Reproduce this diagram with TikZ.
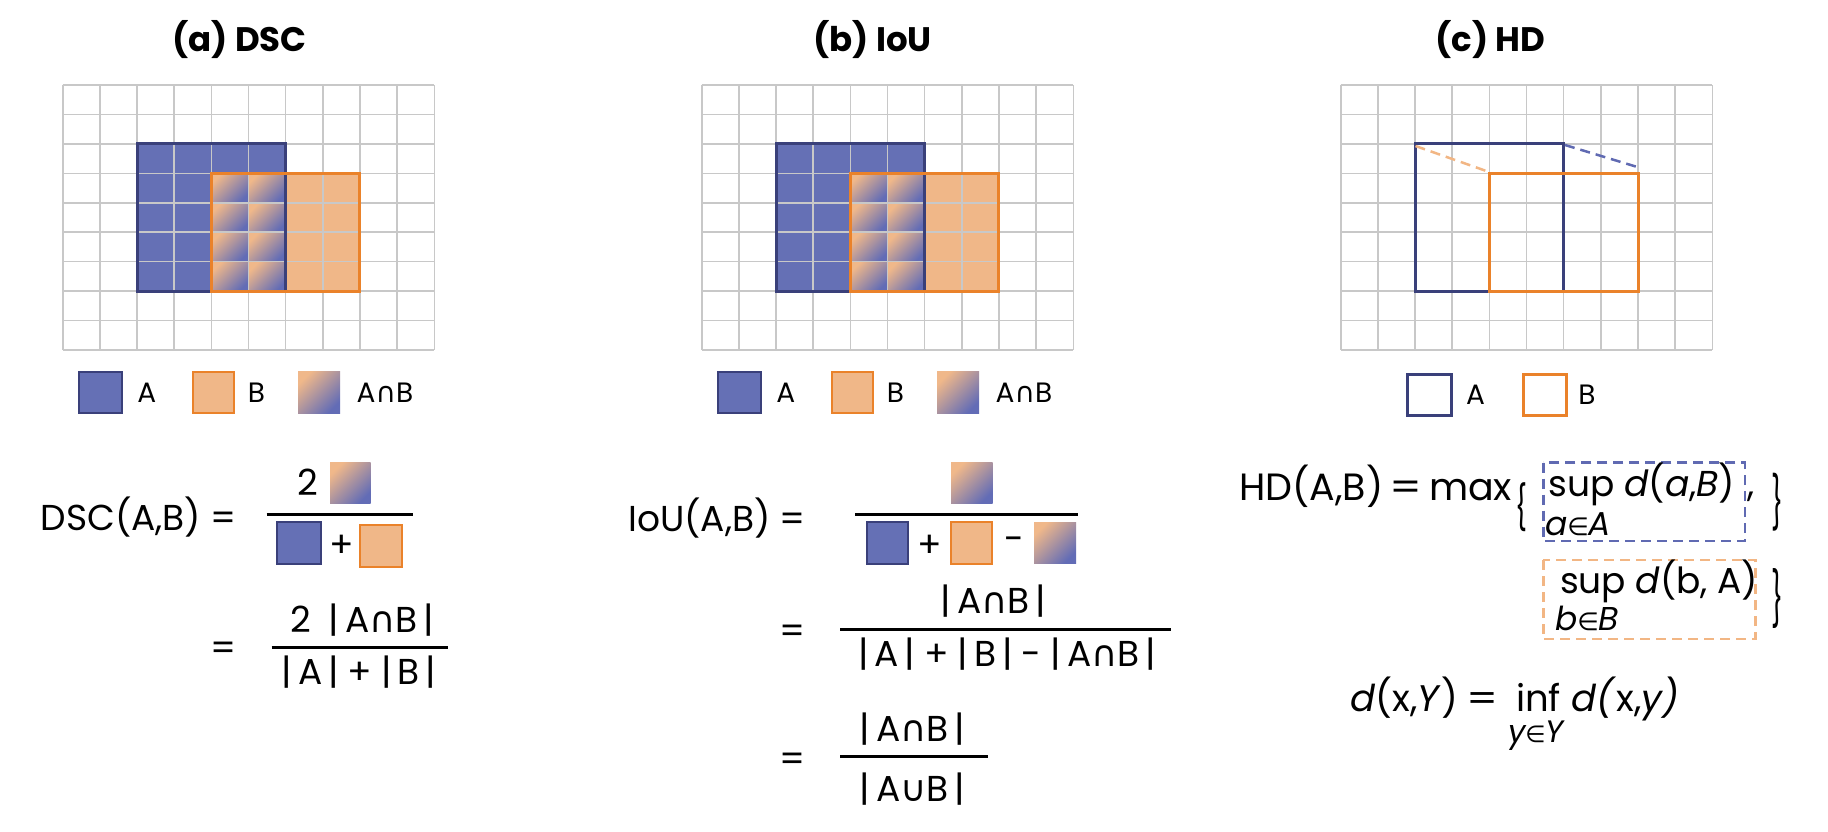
\documentclass[tikz,border=0pt]{standalone}
\usepackage{fontspec}
\setmainfont{Poppins}
\newfontfamily\symf{DejaVu Sans}
\usetikzlibrary{calc}
\definecolor{ablue}{RGB}{101,112,181}
\definecolor{ablueline}{RGB}{58,64,122}
\definecolor{borange}{RGB}{240,183,136}
\definecolor{borangeline}{RGB}{234,130,42}
\definecolor{gridc}{RGB}{200,200,200}
\definecolor{gradO}{RGB}{240,184,138}
\definecolor{gradB}{RGB}{98,108,182}
\definecolor{dashblue}{RGB}{96,106,178}
\definecolor{dashorange}{RGB}{242,182,132}
\newcommand{\mycap}{{\symf ∩}}
\newcommand{\mycup}{{\symf ∪}}
\newcommand{\myin}{{\symf\scalebox{0.75}{∈}}}
\newcommand{\opsp}[1]{\hspace{9pt}#1\hspace{9pt}}
\newcommand{\wideeq}{\scalebox{1.2}[1]{=}}
\tikzset{
  txt/.style={inner sep=0pt, outer sep=0pt},
  ttl/.style={txt, font=\fontsize{34}{38}\selectfont\bfseries},
  leg/.style={txt, font=\fontsize{28}{32}\selectfont},
  frm/.style={txt, font=\fontsize{36}{40}\selectfont},
  hdf/.style={txt, font=\fontsize{38}{44}\selectfont},
  hdg/.style={txt, font=\fontsize{37}{42}\selectfont},
  hds/.style={txt, font=\fontsize{36}{40}\selectfont},
  hdsub/.style={txt, font=\fontsize{33}{38}\selectfont\itshape},
  gridline/.style={draw=gridc, line width=1.6pt},
  afill/.style={fill=ablue},
  bfill/.style={fill=borange},
  aedge/.style={draw=ablueline, line width=3pt},
  bedge/.style={draw=borangeline, line width=3pt},
  grad/.style={top color=gradO, bottom color=gradB, shading angle=45},
  fracbar/.style={line width=3pt, black},
  legA/.style={fill=ablue, draw=ablueline, line width=2pt},
  legB/.style={fill=borange, draw=borangeline, line width=2pt},
  hdash/.style={line width=2.5pt, dash pattern=on 10pt off 6pt},
}
\begin{document}
\begin{tikzpicture}[x=1pt,y=-1pt]
\fill[white] (0,0) rectangle (1828,831);
\useasboundingbox (0,0) rectangle (1828,831);

% titles
\node[ttl, anchor=base] (ta) at (239.5,51.7) {(a) DSC};
\node[ttl, anchor=base] (tb) at (872.6,51.7) {(b) IoU};
\node[ttl, anchor=base] (tc) at (1490.5,51.7) {(c) HD};

% panels a and b
\foreach \ox in {0,639} {
\begin{scope}[xshift=\ox pt]
  \fill[afill] (137.02,143.88) rectangle (285.66,291.08);
  \fill[bfill] (211.34,173.32) rectangle (359.98,291.08);
  \foreach \i in {4,5} \foreach \j in {3,...,6}
    \shade[grad] ({62.7+37.16*\i},{85+29.44*\j}) rectangle ++(37.16,29.44);
  \foreach \i in {0,...,10}
    \draw[gridline] ({62.7+37.16*\i},85) -- ({62.7+37.16*\i},349.96);
  \foreach \j in {0,...,9}
    \draw[gridline] (62.7,{85+29.44*\j}) -- (434.3,{85+29.44*\j});
  \draw[aedge] (137.02,143.88) rectangle (285.66,291.08);
  \draw[bedge] (211.34,173.32) rectangle (359.98,291.08);
  % legend
  \draw[legA] (79.3,371.7) rectangle (121.7,413.3);
  \node[leg] (legA\ox) at (146.7,392.5) {A};
  \draw[legB] (192.7,371.7) rectangle (234.3,413.3);
  \node[leg] (legB\ox) at (256.5,392.5) {B};
  \shade[grad] (298,371.7) rectangle (340,413.3);
  \node[leg] (legAB\ox) at (385,392.5) {A\mycap B};
\end{scope}
}

% panel c
\begin{scope}[xshift=1278pt]
  \foreach \i in {0,...,10}
    \draw[gridline] ({62.7+37.16*\i},85) -- ({62.7+37.16*\i},349.96);
  \foreach \j in {0,...,9}
    \draw[gridline] (62.7,{85+29.44*\j}) -- (434.3,{85+29.44*\j});
  \draw[aedge] (137.02,143.88) rectangle (285.66,291.08);
  \draw[bedge] (211.34,173.32) rectangle (359.98,291.08);
  \draw[hdash, dashorange] (137.5,146) -- (210.3,171.7);
  \draw[hdash, dashblue] (287,145) -- (360.3,167.3);
\end{scope}
\draw[aedge, fill=white] (1407.7,374) rectangle (1451.7,415);
\node[leg] (legAc) at (1475.5,394.5) {A};
\draw[bedge, fill=white] (1523.3,374) rectangle (1566,415);
\node[leg] (legBc) at (1587,394.5) {B};

% ---------- DSC formula ----------
\node[frm, anchor=base west] (dscl) at (40.7,530.7) {DSC(A,B)};
\node[frm, anchor=base] (dsceq) at (224,530.7) {=};
\draw[fracbar] (266.7,514) -- (413.3,514);
\node[frm, anchor=base] (dsctwo) at (307.5,495) {2};
\shade[grad] (330,462.7) rectangle (370.7,503.3);
\draw[legA] (277,522) rectangle (320.7,564);
\node[frm] (dscplus) at (342,546) {+};
\draw[legB] (360,525) rectangle (402,567);
\node[frm, anchor=base] (dsceq2) at (224,660.9) {=};
\node[frm, anchor=base] (dscnum) at (362.3,632.7) {2\enspace|\,A\mycap B\,|};
\draw[fracbar] (271.7,647.3) -- (448,647.3);
\node[frm, anchor=base] (dscden) at (359,684) {|\,A\,|\opsp{+}|\,B\,|};

% ---------- IoU formula ----------
\node[frm, anchor=base west] (ioul) at (628.3,531.7) {IoU(A,B)};
\node[frm, anchor=base] (ioueq) at (793,531.7) {=};
\draw[fracbar] (855,514) -- (1078.3,514);
\shade[grad] (951,462.7) rectangle (992.7,503.3);
\draw[legA] (866.7,522.3) rectangle (908.3,564.3);
\node[frm] (iouplus) at (929.5,546) {+};
\draw[legB] (950.7,522.3) rectangle (992.3,564.3);
\node[frm] (iouminus) at (1014,544) {-};
\shade[grad] (1034,522.7) rectangle (1076,563.3);
\node[frm, anchor=base] (ioueq2) at (793,643.5) {=};
\node[frm, anchor=base] (iounum2) at (993.5,613.3) {|\,A\mycap B\,|};
\draw[fracbar] (840,629) -- (1171,629);
\node[frm, anchor=base] (iouden2) at (1007.2,666.7) {|\,A\,|\opsp{+}|\,B\,|\opsp{-}|\,A\mycap B\,|};
\node[frm, anchor=base] (ioueq3) at (793,771.9) {=};
\node[frm, anchor=base] (iounum3) at (912.5,741.7) {|\,A\mycap B\,|};
\draw[fracbar] (840,756) -- (987.7,756);
\node[frm, anchor=base] (iouden3) at (912.5,801) {|\,A\mycup B\,|};

% ---------- HD formula ----------
\node[hdf, anchor=base west] (hdl) at (1239.3,500) {HD(A,B)};
\node[hdf, anchor=base] (hdeq) at (1406,500) {\wideeq};
\node[hdf, anchor=base west] (hdmax) at (1429,500) {max};
\node[hdf] (hdbr) at (1521,507.5) {\resizebox*{12pt}{49pt}{\{}};
\draw[hdash, dashblue] (1543.3,462.7) rectangle (1745,541);
\node[hds, anchor=base west] (sup1) at (1548.5,496.7) {sup \textit{d}(\textit{a},\textit{B})};
\node[hds, anchor=base west] (comma) at (1747,496.7) {,};
\node[hdsub, anchor=base west] (sub1) at (1545,535) {a\myin A};
\node[hdf] (hdbr1) at (1777.7,502.5) {\resizebox*{12pt}{58pt}{\}}};
\draw[hdash, dashorange] (1543.3,560) rectangle (1755.5,639);
\node[hds, anchor=base west] (sup2) at (1560,593.3) {sup \textit{d}(b, A)};
\node[hdsub, anchor=base west] (sub2) at (1555,630) {b\myin B};
\node[hdf] (hdbr2) at (1777,598.3) {\resizebox*{12pt}{60pt}{\}}};
\node[hdg, anchor=base west] (dxy) at (1350.7,711.7) {\textit{d}(x,\textit{Y})};
\node[hdg, anchor=base] (dxyeq) at (1483,711.7) {\wideeq};
\node[hdg, anchor=base west] (inf) at (1516,711.7) {inf};
\node[hdg, anchor=base west] (dxy2) at (1571.7,711.7) {\textit{d(}x,\textit{y)}};
\node[hdsub, font=\fontsize{31}{36}\selectfont\itshape, anchor=base west] (infsub) at (1508,742) {y\myin Y};
\end{tikzpicture}
\end{document}
